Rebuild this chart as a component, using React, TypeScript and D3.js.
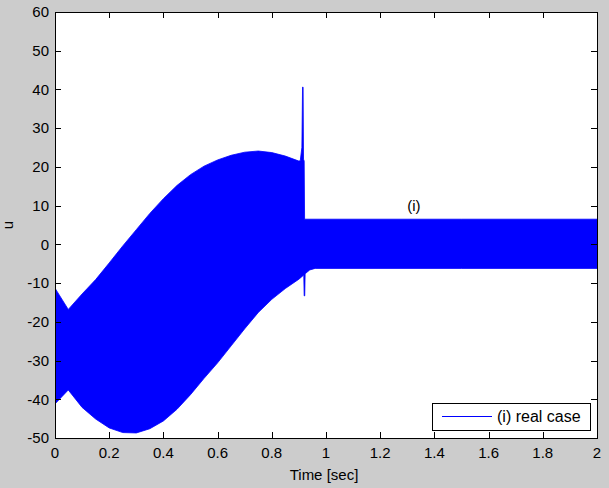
import React from "react";
import * as d3 from "d3";

// Upper envelope of u(t)
const upperTime = [0, 0.049, 0.1, 0.15, 0.2, 0.25, 0.3, 0.35, 0.4, 0.45, 0.5, 0.55, 0.6, 0.65, 0.7, 0.75, 0.8, 0.85, 0.9, 0.905, 0.911, 0.9135, 0.9155, 0.917, 0.9195, 0.921, 1.0, 1.5, 2.0];
const upperValue = [-11.3, -16.8, -12.8, -9.1, -4.8, -0.4, 3.8, 8.0, 11.8, 15.2, 18.0, 20.2, 21.8, 23.0, 23.8, 24.1, 23.7, 22.8, 21.5, 21.6, 25.0, 40.6, 40.6, 22.0, 21.5, 6.5, 6.5, 6.5, 6.5];

// Lower envelope of u(t)
const lowerTime = [0, 0.049, 0.1, 0.15, 0.2, 0.25, 0.3, 0.35, 0.4, 0.45, 0.5, 0.55, 0.6, 0.65, 0.7, 0.75, 0.8, 0.85, 0.9, 0.918, 0.9195, 0.9215, 0.923, 0.94, 0.96, 1.0, 1.5, 2.0];
const lowerValue = [-41.2, -37.6, -42.1, -45.1, -47.4, -48.6, -48.7, -47.6, -45.6, -42.6, -38.8, -34.6, -30.6, -26.2, -21.8, -17.6, -14.2, -11.4, -9.0, -7.9, -13.3, -13.3, -7.6, -6.6, -6.2, -6.2, -6.2, -6.2];

const xTicks = [0, 0.2, 0.4, 0.6, 0.8, 1, 1.2, 1.4, 1.6, 1.8, 2];
const yTicks = [-50, -40, -30, -20, -10, 0, 10, 20, 30, 40, 50, 60];

const legendLabel = "(i) real case";
const annotationText = "(i)";
const annotationPos = [1.3, 10];

const W = 609, H = 488;
const L = 55, R = 597, T = 12, B = 438;
const FONT = "'Liberation Sans', Arial, Helvetica, sans-serif";

export default function App() {
  const x = d3.scaleLinear().domain([0, 2]).range([L, R]);
  const y = d3.scaleLinear().domain([-50, 60]).range([B, T]);

  const pts: [number, number][] = [
    ...upperTime.map((t, i) => [t, upperValue[i]] as [number, number]),
    ...lowerTime.map((t, i) => [t, lowerValue[i]] as [number, number]).reverse(),
  ];
  const line = d3.line<[number, number]>().x(d => x(d[0])).y(d => y(d[1]));
  const band = line(pts) + "Z";

  const tk = 6;
  return (
    <svg width={W} height={H} style={{ position: "absolute", left: 0, top: 0 }} fontFamily={FONT}>
      <rect x={0} y={0} width={W} height={H} fill="#cccccc" />
      <rect x={L} y={T} width={R - L} height={B - T} fill="#ffffff" />
      <clipPath id="clip"><rect x={L} y={T} width={R - L} height={B - T} /></clipPath>
      <path d={band} fill="#0000ff" stroke="#0000ff" strokeWidth={0.8} clipPath="url(#clip)" />
      {xTicks.map(t => (
        <g key={"x" + t}>
          <line x1={Math.round(x(t)) + 0.5} x2={Math.round(x(t)) + 0.5} y1={B} y2={B - tk} stroke="#000" />
          <line x1={Math.round(x(t)) + 0.5} x2={Math.round(x(t)) + 0.5} y1={T} y2={T + tk} stroke="#000" />
          <text x={x(t)} y={458} fontSize={15} textAnchor="middle" fill="#000">{String(t)}</text>
        </g>
      ))}
      {yTicks.map(v => (
        <g key={"y" + v}>
          <line x1={L} x2={L + tk} y1={Math.round(y(v)) + 0.5} y2={Math.round(y(v)) + 0.5} stroke="#000" />
          <line x1={R} x2={R - tk} y1={Math.round(y(v)) + 0.5} y2={Math.round(y(v)) + 0.5} stroke="#000" />
          <text x={49} y={y(v) + 5.3} fontSize={15} textAnchor="end" fill="#000">{String(v)}</text>
        </g>
      ))}
      <rect x={L + 0.5} y={T + 0.5} width={R - L} height={B - T} fill="none" stroke="#000" />
      <text x={x(annotationPos[0])} y={y(annotationPos[1]) + 5.3} fontSize={15} fill="#000">{annotationText}</text>
      <g>
        <rect x={432.5} y={403.5} width={158} height={27} fill="#fff" stroke="#000" />
        <line x1={442} x2={492} y1={416.5} y2={416.5} stroke="#0000ff" />
        <text x={497} y={422} fontSize={16} fill="#000">{legendLabel}</text>
      </g>
      <text x={324} y={480} fontSize={15} textAnchor="middle" fill="#000">Time [sec]</text>
      <text transform={`translate(13,${(T + B) / 2}) rotate(-90)`} fontSize={15} textAnchor="middle" fill="#000">u</text>
    </svg>
  );
}
